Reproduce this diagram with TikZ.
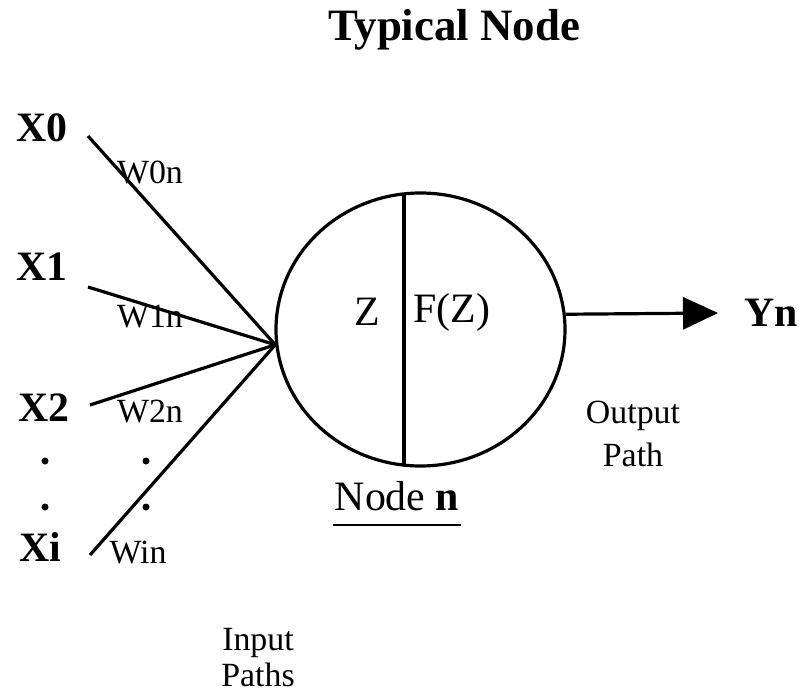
\documentclass[tikz,border=0pt]{standalone}
\usepackage{fontspec}
\setmainfont{Liberation Serif}
\usetikzlibrary{shapes.geometric,arrows.meta}
\begin{document}
\begin{tikzpicture}[x=1bp,y=-1bp,line width=3.2bp,
  titlef/.style={font=\fontsize{45}{50}\selectfont\bfseries,inner sep=0},
  big/.style={font=\fontsize{42}{46}\selectfont\bfseries,inner sep=0},
  mid/.style={font=\fontsize{42}{46}\selectfont,inner sep=0},
  small/.style={font=\fontsize{34}{36}\selectfont,inner sep=0},
  path2/.style={font=\fontsize{34}{44}\selectfont,inner sep=0,align=center},
  dotmark/.style={circle,fill,inner sep=0,minimum size=7bp},
  wire/.style={line width=3.2bp}]
\useasboundingbox (0,0) rectangle (799,696);
% title
\node[titlef] (title) at (454,30) {Typical Node};
% node circle
\node[draw,ellipse,minimum width=289bp,minimum height=273bp,inner sep=0,line width=3.2bp] (nd) at (420.5,329.5) {};
\coordinate (vt) at (404,194.5);
\coordinate (vb) at (404,464.5);
\draw[wire] (vt) -- (vb);
\node[mid] (z) at (367,312) {Z};
\node[mid] (fz) at (452,312) {F(Z)};
\node[mid,anchor=base] (nlab) at (397,510) {Node \textbf{n}};
\draw[line width=2bp] ([yshift=-15bp]nlab.base west) -- ([yshift=-15bp]nlab.base east);
% inputs
\node[big] (x0) at (42,128) {X0};
\node[big] (x1) at (42,267) {X1};
\node[big] (x2) at (44,408) {X2};
\node[big] (xi) at (40,547) {Xi};
\coordinate (s0) at (88,136);
\coordinate (s1) at (88,287);
\coordinate (s2) at (90,405);
\coordinate (si) at (90,555);
\coordinate (hub) at (nd.186.2);
\draw[wire] (s0) -- (hub);
\draw[wire] (s1) -- (hub);
\draw[wire] (s2) -- (hub);
\draw[wire] (si) -- (hub);
\node[small] (w0) at (150,172) {W0n};
\node[small] (w1) at (150,317) {W1n};
\node[small] (w2) at (150,412) {W2n};
\node[small] (wi) at (138,553) {Win};
\node[dotmark] (d1) at (45,461) {};
\node[dotmark] (d2) at (45,507) {};
\node[dotmark] (d3) at (146,461) {};
\node[dotmark] (d4) at (146,507) {};
% output
\node[big,anchor=west] (yn) at (743,313) {Yn};
\draw[wire,-{Triangle[length=35bp,width=32bp]}] (nd.6.6) -- ([xshift=-25bp]yn.west);
\node[path2] (opath) at (633,434) {Output\\Path};
\node[path2,font=\fontsize{34}{36}\selectfont] (ipath) at (258,658) {Input\\Paths};
\end{tikzpicture}
\end{document}
